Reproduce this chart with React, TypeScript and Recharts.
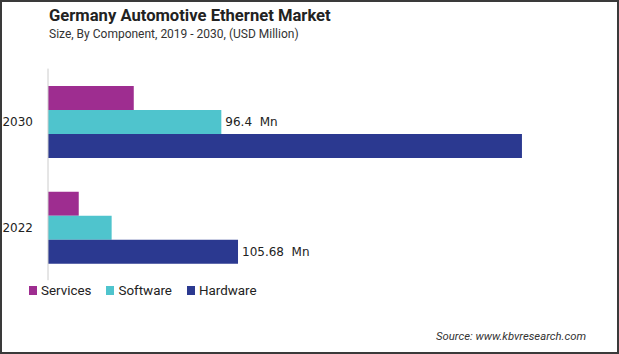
import { BarChart, Bar, XAxis, YAxis, LabelList } from 'recharts'

const years = ['2030', '2022']
const services = [47.7, 17.1]
const software = [96.4, 35.4]
const hardware = [263.6, 105.68]
const softwareLabels = ['96.4  Mn', '']
const hardwareLabels = ['', '105.68  Mn']

const seriesColors = { services: '#9E2D90', software: '#4FC4CD', hardware: '#2B3990' }

const data = years.map((year, i) => ({
  year,
  services: services[i],
  software: software[i],
  hardware: hardware[i],
  softwareLabel: softwareLabels[i],
  hardwareLabel: hardwareLabels[i],
}))

// eslint-disable-next-line @typescript-eslint/no-explicit-any
const renderValueLabel = (props: any) => {
  const { x, y, width, height, value } = props
  if (!value) return null
  return (
    <text
      x={Number(x) + Number(width) + 4}
      y={Number(y) + Number(height) / 2}
      dominantBaseline="central"
      fill="#222"
      fontSize={12}
      fontFamily="DejaVu Sans, sans-serif"
      style={{ whiteSpace: 'pre' }}
    >
      {value}
    </text>
  )
}

const legendItems = [
  { name: 'Services', color: seriesColors.services },
  { name: 'Software', color: seriesColors.software },
  { name: 'Hardware', color: seriesColors.hardware },
]

export default function App() {
  return (
    <div
      style={{
        position: 'absolute',
        left: 0,
        top: 0,
        width: 619,
        height: 354,
        boxSizing: 'border-box',
        border: '2px solid #3a3a3a',
        background: '#fff',
        overflow: 'hidden',
      }}
    >
      <div
        style={{
          position: 'absolute',
          left: 47,
          top: 4,
          fontFamily: 'Roboto, sans-serif',
          fontWeight: 700,
          fontSize: 16.6,
          color: '#222',
        }}
      >
        Germany Automotive Ethernet Market
      </div>
      <div
        style={{
          position: 'absolute',
          left: 47,
          top: 25,
          fontFamily: 'Roboto, sans-serif',
          fontSize: 12,
          color: '#333',
        }}
      >
        Size, By Component, 2019 - 2030, (USD Million)
      </div>
      <div style={{ position: 'absolute', left: -2, top: -2 }}>
        <BarChart
          width={619}
          height={354}
          data={data}
          layout="vertical"
          margin={{ top: 68.6, right: 31.6, bottom: 73.8, left: 0 }}
          barCategoryGap={17.4}
          barGap={0}
        >
          <XAxis type="number" domain={[0, 300]} hide />
          <YAxis
            type="category"
            dataKey="year"
            width={48}
            axisLine={{ stroke: '#cccccc' }}
            tickLine={false}
            tickMargin={9}
            tick={{ fill: '#222', fontSize: 12, fontFamily: 'DejaVu Sans, sans-serif' }}
          />
          <Bar dataKey="services" name="Services" fill={seriesColors.services} isAnimationActive={false} />
          <Bar dataKey="software" name="Software" fill={seriesColors.software} isAnimationActive={false}>
            <LabelList dataKey="softwareLabel" content={renderValueLabel} />
          </Bar>
          <Bar dataKey="hardware" name="Hardware" fill={seriesColors.hardware} isAnimationActive={false}>
            <LabelList dataKey="hardwareLabel" content={renderValueLabel} />
          </Bar>
        </BarChart>
      </div>
      <div
        style={{
          position: 'absolute',
          left: 27,
          top: 281,
          display: 'flex',
          alignItems: 'center',
          fontFamily: 'Roboto, sans-serif',
          fontSize: 13.4,
          color: '#222',
        }}
      >
        {legendItems.map((item) => (
          <div key={item.name} style={{ display: 'flex', alignItems: 'center', marginRight: 15 }}>
            <span style={{ width: 8, height: 9, background: item.color, marginRight: 4, display: 'inline-block' }} />
            {item.name}
          </div>
        ))}
      </div>
      <div
        style={{
          position: 'absolute',
          right: 31,
          top: 328,
          fontFamily: 'Roboto, sans-serif',
          fontStyle: 'italic',
          fontSize: 11.3,
          color: '#333',
        }}
      >
        Source: www.kbvresearch.com
      </div>
    </div>
  )
}
